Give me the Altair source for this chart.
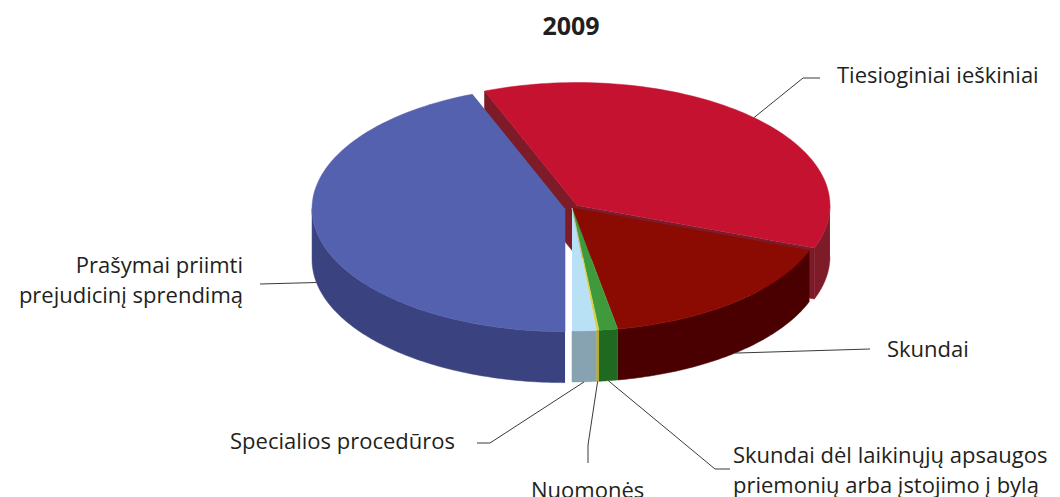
import altair as alt
import pandas as pd

# ---- data -------------------------------------------------------------
categories = [
    "Prašymai priimti prejudicinį sprendimą",
    "Tiesioginiai ieškiniai",
    "Skundai",
    "Skundai dėl laikinųjų apsaugos priemonių arba įstojimo į bylą",
    "Nuomonės",
    "Specialios procedūros",
]
values = [259, 215, 97, 7, 1, 9]
exploded = [1, 1, 0, 0, 0, 0]

# ---- styles -----------------------------------------------------------
top_colors = ["#5461AE", "#C41230", "#8B0B02", "#3F9A3B", "#D9D04A", "#B8E1F6"]
side_colors = ["#3A4380", "#7E1B29", "#4A0000", "#1F6A20", "#B5AA2A", "#87A2B1"]

label_texts = [
    "Prašymai priimti\nprejudicinį sprendimą",
    "Tiesioginiai ieškiniai",
    "Skundai",
    "Skundai dėl laikinųjų apsaugos\npriemonių arba įstojimo į bylą",
    "Nuomonės",
    "Specialios procedūros",
]
label_align = ["right", "left", "left", "left", "left", "left"]
# label positions (page px, baseline of first line)
label_px = [243, 837, 887, 733, 531, 230]
label_py = [273, 83, 357, 463, 498, 449]
# leader-line elbow points (page px)
elbow1_px = [260, 803, 870, 715, 588, 490]
elbow1_py = [284, 78, 349, 469, 445, 443]
elbow2_px = [260, 820, 870, 730, 588, 477]
elbow2_py = [284, 78, 349, 469, 463, 443]

# ---- geometry parameters (pixels) -------------------------------------
CXP, CYP = 572, 208        # pie centre on the page
RX, RY, DEPTH = 253, 123, 51
EXPL = 0.028
N = 90
W, H = 1044, 489

def to_u(px):
    return px - CXP

def to_v(py):
    return CYP - py

df = pd.DataFrame({
    "cat": categories,
    "value": values,
    "idx": list(range(len(categories))),
    "explode": exploded,
    "top": top_colors,
    "side": side_colors,
    "label": label_texts,
    "align": label_align,
    "lu": [to_u(p) for p in label_px],
    "lv": [to_v(p) for p in label_py],
    "e1u": [to_u(p) for p in elbow1_px],
    "e1v": [to_v(p) for p in elbow1_py],
    "e2u": [to_u(p) for p in elbow2_px],
    "e2v": [to_v(p) for p in elbow2_py],
})

X = alt.X("u:Q", scale=alt.Scale(domain=[-(CXP - 8), W - (CXP - 8)], nice=False, zero=False), axis=None)
Y = alt.Y("v:Q", scale=alt.Scale(domain=[-(H - (CYP - 8)), CYP - 8], nice=False, zero=False), axis=None)


def base():
    return (
        alt.Chart(df)
        .transform_joinaggregate(total="sum(value)")
        .transform_window(cum="sum(value)", sort=[alt.SortField("idx")], frame=[None, 0])
        .transform_calculate(
            a0="PI + 2*PI*(datum.cum - datum.value)/datum.total",
            a1="PI + 2*PI*datum.cum/datum.total",
        )
        .transform_calculate(am="(datum.a0 + datum.a1)/2")
        .transform_calculate(
            ox=f"datum.explode * {EXPL} * sin(datum.am)",
            oy=f"datum.explode * {EXPL} * cos(datum.am)",
        )
    )


# radial cut faces of exploded slices (only those facing the viewer)
cuts = (
    base()
    .transform_calculate(f="sequence(0, 2)")
    .transform_flatten(["f"])
    .transform_calculate(
        ang="datum.f == 0 ? datum.a0 : datum.a1",
        vis="datum.f == 0 ? (sin(datum.a0) < -0.000001) : (sin(datum.a1) > 0.000001)",
        key="datum.cat + '_' + datum.f",
    )
    .transform_filter("datum.explode == 1 && datum.vis")
    .transform_calculate(k="sequence(0, 4)")
    .transform_flatten(["k"])
    .transform_calculate(
        u=f"(datum.ox + ((datum.k == 1 || datum.k == 2) ? sin(datum.ang) : 0)) * {RX}",
        v=f"(datum.oy + ((datum.k == 1 || datum.k == 2) ? cos(datum.ang) : 0)) * {RY} - (datum.k >= 2 ? {DEPTH} : 0)",
    )
    .mark_line(strokeWidth=0.5)
    .encode(
        x=X, y=Y, order="k:Q", detail="key:N",
        fill=alt.Fill("side:N", scale=None),
        stroke=alt.Stroke("side:N", scale=None),
    )
)

# outer walls (front half only)
sides = (
    base()
    .transform_calculate(seg="sequence(0, 2)")
    .transform_flatten(["seg"])
    .transform_calculate(
        lo="datum.seg == 0 ? PI : 2.5*PI",
        hi="datum.seg == 0 ? 1.5*PI : 3*PI",
    )
    .transform_calculate(
        s0="max(datum.a0, datum.lo)",
        s1="min(datum.a1, datum.hi)",
        key="datum.cat + '_' + datum.seg",
    )
    .transform_filter("datum.s1 > datum.s0")
    .transform_calculate(k=f"sequence(0, {2 * N + 2})")
    .transform_flatten(["k"])
    .transform_calculate(
        j=f"datum.k <= {N} ? datum.k : {2 * N + 1} - datum.k",
        bot=f"datum.k <= {N} ? 0 : 1",
    )
    .transform_calculate(th=f"datum.s0 + (datum.s1 - datum.s0) * datum.j / {N}")
    .transform_calculate(
        u=f"(datum.ox + sin(datum.th)) * {RX}",
        v=f"(datum.oy + cos(datum.th)) * {RY} - datum.bot * {DEPTH}",
    )
    .mark_line(strokeWidth=0.5)
    .encode(
        x=X, y=Y, order="k:Q", detail="key:N",
        fill=alt.Fill("side:N", scale=None),
        stroke=alt.Stroke("side:N", scale=None),
    )
)

# top faces
tops = (
    base()
    .transform_calculate(k=f"sequence(0, {N + 2})")
    .transform_flatten(["k"])
    .transform_calculate(th=f"datum.a0 + (datum.a1 - datum.a0) * (datum.k - 1) / {N}")
    .transform_calculate(
        u=f"(datum.ox + (datum.k == 0 ? 0 : sin(datum.th))) * {RX}",
        v=f"(datum.oy + (datum.k == 0 ? 0 : cos(datum.th))) * {RY}",
    )
    .mark_line(strokeWidth=0.5)
    .encode(
        x=X, y=Y, order="k:Q", detail="cat:N",
        fill=alt.Fill("top:N", scale=None),
        stroke=alt.Stroke("top:N", scale=None),
    )
)

# leader lines
leaders = (
    base()
    .transform_calculate(
        au=f"(datum.ox + sin(datum.am)) * {RX}",
        av=f"(datum.oy + cos(datum.am)) * {RY} - (cos(datum.am) < 0 ? {DEPTH} : 0)",
    )
    .transform_calculate(k="sequence(0, 3)")
    .transform_flatten(["k"])
    .transform_calculate(
        u="datum.k == 0 ? datum.au : (datum.k == 1 ? datum.e1u : datum.e2u)",
        v="datum.k == 0 ? datum.av : (datum.k == 1 ? datum.e1v : datum.e2v)",
    )
    .mark_line(stroke="#3a3a3a", strokeWidth=1)
    .encode(x=X, y=Y, order="k:Q", detail="cat:N")
)

FONT = "Open Sans"
FS = 22

labels_left = (
    alt.Chart(df)
    .transform_filter("datum.align == 'left'")
    .transform_calculate(u="datum.lu", v="datum.lv")
    .mark_text(align="left", baseline="alphabetic", font=FONT, fontSize=FS,
               color="#231F20", lineBreak="\n", lineHeight=30)
    .encode(x=X, y=Y, text="label:N")
)
labels_right = (
    alt.Chart(df)
    .transform_filter("datum.align == 'right'")
    .transform_calculate(u="datum.lu", v="datum.lv")
    .mark_text(align="right", baseline="alphabetic", font=FONT, fontSize=FS,
               color="#231F20", lineBreak="\n", lineHeight=30)
    .encode(x=X, y=Y, text="label:N")
)

title_df = pd.DataFrame({"t": ["2009"], "u": [to_u(571)], "v": [to_v(35)]})
title = (
    alt.Chart(title_df)
    .mark_text(align="center", baseline="alphabetic", font=FONT, fontSize=25,
               fontWeight="bold", color="#231F20")
    .encode(x=X, y=Y, text="t:N")
)

chart = (
    alt.layer(cuts, sides, tops, leaders, labels_left, labels_right, title)
    .properties(width=W, height=H, padding=0, autosize="none")
    .configure_view(stroke=None)
)

chart.save("out.html", embed_options={"renderer": "svg", "actions": False})
